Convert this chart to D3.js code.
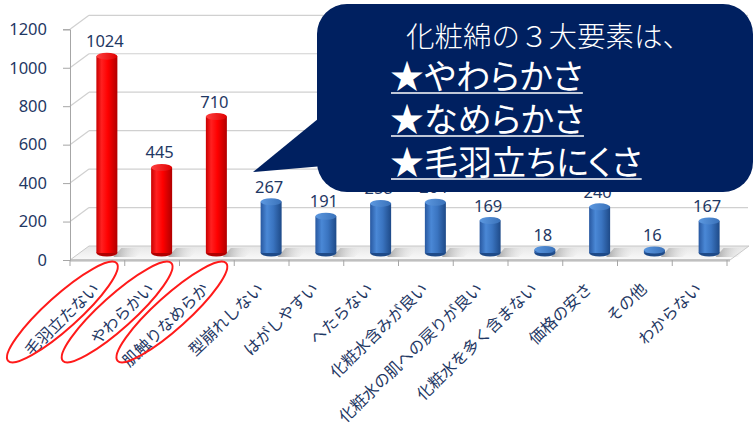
<!DOCTYPE html>
<html><head><meta charset="utf-8">
<script src="https://cdn.jsdelivr.net/npm/d3@7"></script>
<style>body{margin:0;background:#fff}svg{display:block}</style>
</head><body><svg id="c" width="755" height="432"></svg>
<script>
const categories = ["毛羽立たない","やわらかい","肌触りなめらか","型崩れしない","はがしやすい","へたらない","化粧水含みが良い","化粧水の肌への戻りが良い","化粧水を多く含まない","価格の安さ","その他","わからない"];
const values = [1024,445,710,267,191,258,264,169,18,240,16,167];
const highlightedCategories = ["毛羽立たない","やわらかい","肌触りなめらか"];
const yTicks = [0,200,400,600,800,1000,1200];
const calloutTitle = "化粧綿の３大要素は、";
const calloutLines = ["★やわらかさ","★なめらかさ","★毛羽立ちにくさ"];

const svg = d3.select("#c");
const DX = 19, DY = -14;
const x = d3.scaleBand().domain(categories).range([70, 727]);
const y = d3.scaleLinear().domain([0, 1200]).range([260, 29.3]);
const textCol = "#1F3864";
const defs = svg.append("defs");

function grad(id, stops, horiz=true){
  const g = defs.append("linearGradient").attr("id", id)
    .attr("x1","0").attr("y1","0").attr("x2", horiz?"1":"0").attr("y2", horiz?"0":"1");
  stops.forEach(s => g.append("stop").attr("offset", s[0]).attr("stop-color", s[1]).attr("stop-opacity", s[2]==null?1:s[2]));
}
grad("redBody", [[0,"#C80000"],[0.25,"#FF2020"],[0.55,"#FF0000"],[1,"#B00000"]]);
grad("redTop", [[0,"#FF4040"],[1,"#E00000"]]);
grad("blueBody", [[0,"#2858A0"],[0.3,"#4A88D6"],[0.6,"#3A74C0"],[1,"#1E4A88"]]);
grad("blueTop", [[0,"#5C98E0"],[1,"#3A72BA"]]);
grad("floorG", [[0,"#e6e6e6"],[1,"#fafafa"]], false);
grad("shadowG", [[0,"#6f6f6f",0.6],[1,"#ffffff",0]]);

// back wall gridlines + side wall diagonal lines
const grid = svg.append("g");
yTicks.forEach(t => {
  if (t === 0) return;
  grid.append("line").attr("x1",70).attr("y1",y(t)).attr("x2",70+DX).attr("y2",y(t)+DY)
    .attr("stroke","#d0d0d0").attr("stroke-width",1.2);
  grid.append("line").attr("x1",70+DX).attr("y1",y(t)+DY).attr("x2",x.range()[1]+DX+2).attr("y2",y(t)+DY)
    .attr("stroke","#d0d0d0").attr("stroke-width",1.2);
});

// floor
const x0 = 70, x1 = x.range()[1] + 3, fy = y(0);
svg.append("path")
  .attr("d", `M${x0},${fy} L${x1},${fy} L${x1+DX},${fy+DY} L${x0+DX},${fy+DY} Z`)
  .attr("fill","url(#floorG)").attr("stroke","#c8c8c8").attr("stroke-width",1);
svg.append("path")
  .attr("d", `M${x0},${fy} L${x1},${fy} L${x1},${fy+2} L${x0},${fy+2} Z`).attr("fill","#d8d8d8");

// bars
const bw = 21, ery = 3.5;
const bars = svg.append("g");
categories.forEach((c, i) => {
  const v = values[i];
  const cx = x(c) + x.bandwidth()/2 + DX/2;
  const base = y(0) + DY/2;
  const top = y(v) + DY/2;
  const red = highlightedCategories.includes(c);
  bars.append("path")
    .attr("d", `M${cx+bw/2-4},${base+4} L${cx+bw/2+18},${base+4} L${cx+bw/2+28},${base-5} L${cx+bw/2+4},${base-5} Z`)
    .attr("fill","url(#shadowG)");
  bars.append("ellipse").attr("cx",cx).attr("cy",base).attr("rx",bw/2).attr("ry",ery)
    .attr("fill", red ? "#B00000" : "#1E4A88");
  bars.append("rect").attr("x",cx-bw/2).attr("y",top).attr("width",bw).attr("height",Math.max(0,base-top))
    .attr("fill", red ? "url(#redBody)" : "url(#blueBody)");
  bars.append("ellipse").attr("cx",cx).attr("cy",top).attr("rx",bw/2).attr("ry",ery)
    .attr("fill", red ? "url(#redTop)" : "url(#blueTop)");
  bars.append("text").attr("x",cx-2).attr("y",top-9).attr("text-anchor","middle")
    .attr("font-family","Noto Sans, sans-serif").attr("font-size",16.5).attr("fill",textCol).text(v);
});

// y axis
const yAxis = svg.append("g").attr("transform","translate(70,0)")
  .call(d3.axisLeft(y).tickValues(yTicks).tickFormat(d3.format("d")).tickSize(7).tickPadding(16));
yAxis.select(".domain").attr("stroke","#a6a6a6");
yAxis.selectAll(".tick line").attr("stroke","#a6a6a6");
yAxis.selectAll(".tick text").attr("font-family","Noto Sans, sans-serif").attr("font-size",16.5).attr("fill",textCol);

// x axis ticks
const xb = svg.append("g");
const bounds = categories.map(c => x(c)).concat([x.range()[1]]);
xb.selectAll("line").data(bounds).enter().append("line")
  .attr("x1",d=>d).attr("x2",d=>d).attr("y1",fy).attr("y2",fy+6).attr("stroke","#a6a6a6");
xb.append("line").attr("x1",70).attr("x2",x1).attr("y1",fy).attr("y2",fy).attr("stroke","#a6a6a6");

// category labels
categories.forEach(c => {
  const cx = x(c) + x.bandwidth()/2;
  svg.append("text").attr("transform",`translate(${cx+3},${290}) rotate(-44)`)
    .attr("text-anchor","end").attr("font-family","Noto Sans CJK JP, sans-serif").attr("font-size",16)
    .attr("fill",textCol).text(c);
});
// red ellipses around highlighted labels
highlightedCategories.forEach(c => {
  const cx = x(c) + x.bandwidth()/2;
  svg.append("ellipse").attr("transform",`translate(${cx-35},312) rotate(-42)`)
    .attr("rx",73).attr("ry",16.5).attr("fill","none").attr("stroke","#FF1A1A").attr("stroke-width",2);
});

// callout
const co = svg.append("g");
co.append("path").attr("d","M253,172 L335,105 L335,165 Z").attr("fill","#002060");
co.append("rect").attr("x",317).attr("y",4).attr("width",436).attr("height",188).attr("rx",30)
  .attr("fill","#002060");
co.append("text").attr("x",406).attr("y",47).attr("font-family","Noto Sans CJK JP, sans-serif")
  .attr("font-size",28.5).attr("font-weight",300).attr("fill","#fff").text(calloutTitle);
const baselines = [89, 132, 175];
calloutLines.forEach((t, i) => {
  const tx = co.append("text").attr("x",390).attr("y",baselines[i])
    .attr("font-family","Noto Sans CJK JP, sans-serif").attr("font-size",34)
    .style("font-feature-settings","'palt'").attr("fill","#fff").text(t);
  const w = tx.node().getComputedTextLength();
  co.append("line").attr("x1",391).attr("x2",390+w).attr("y1",baselines[i]+4).attr("y2",baselines[i]+4)
    .attr("stroke","#fff").attr("stroke-width",1.5);
});
</script></body></html>
